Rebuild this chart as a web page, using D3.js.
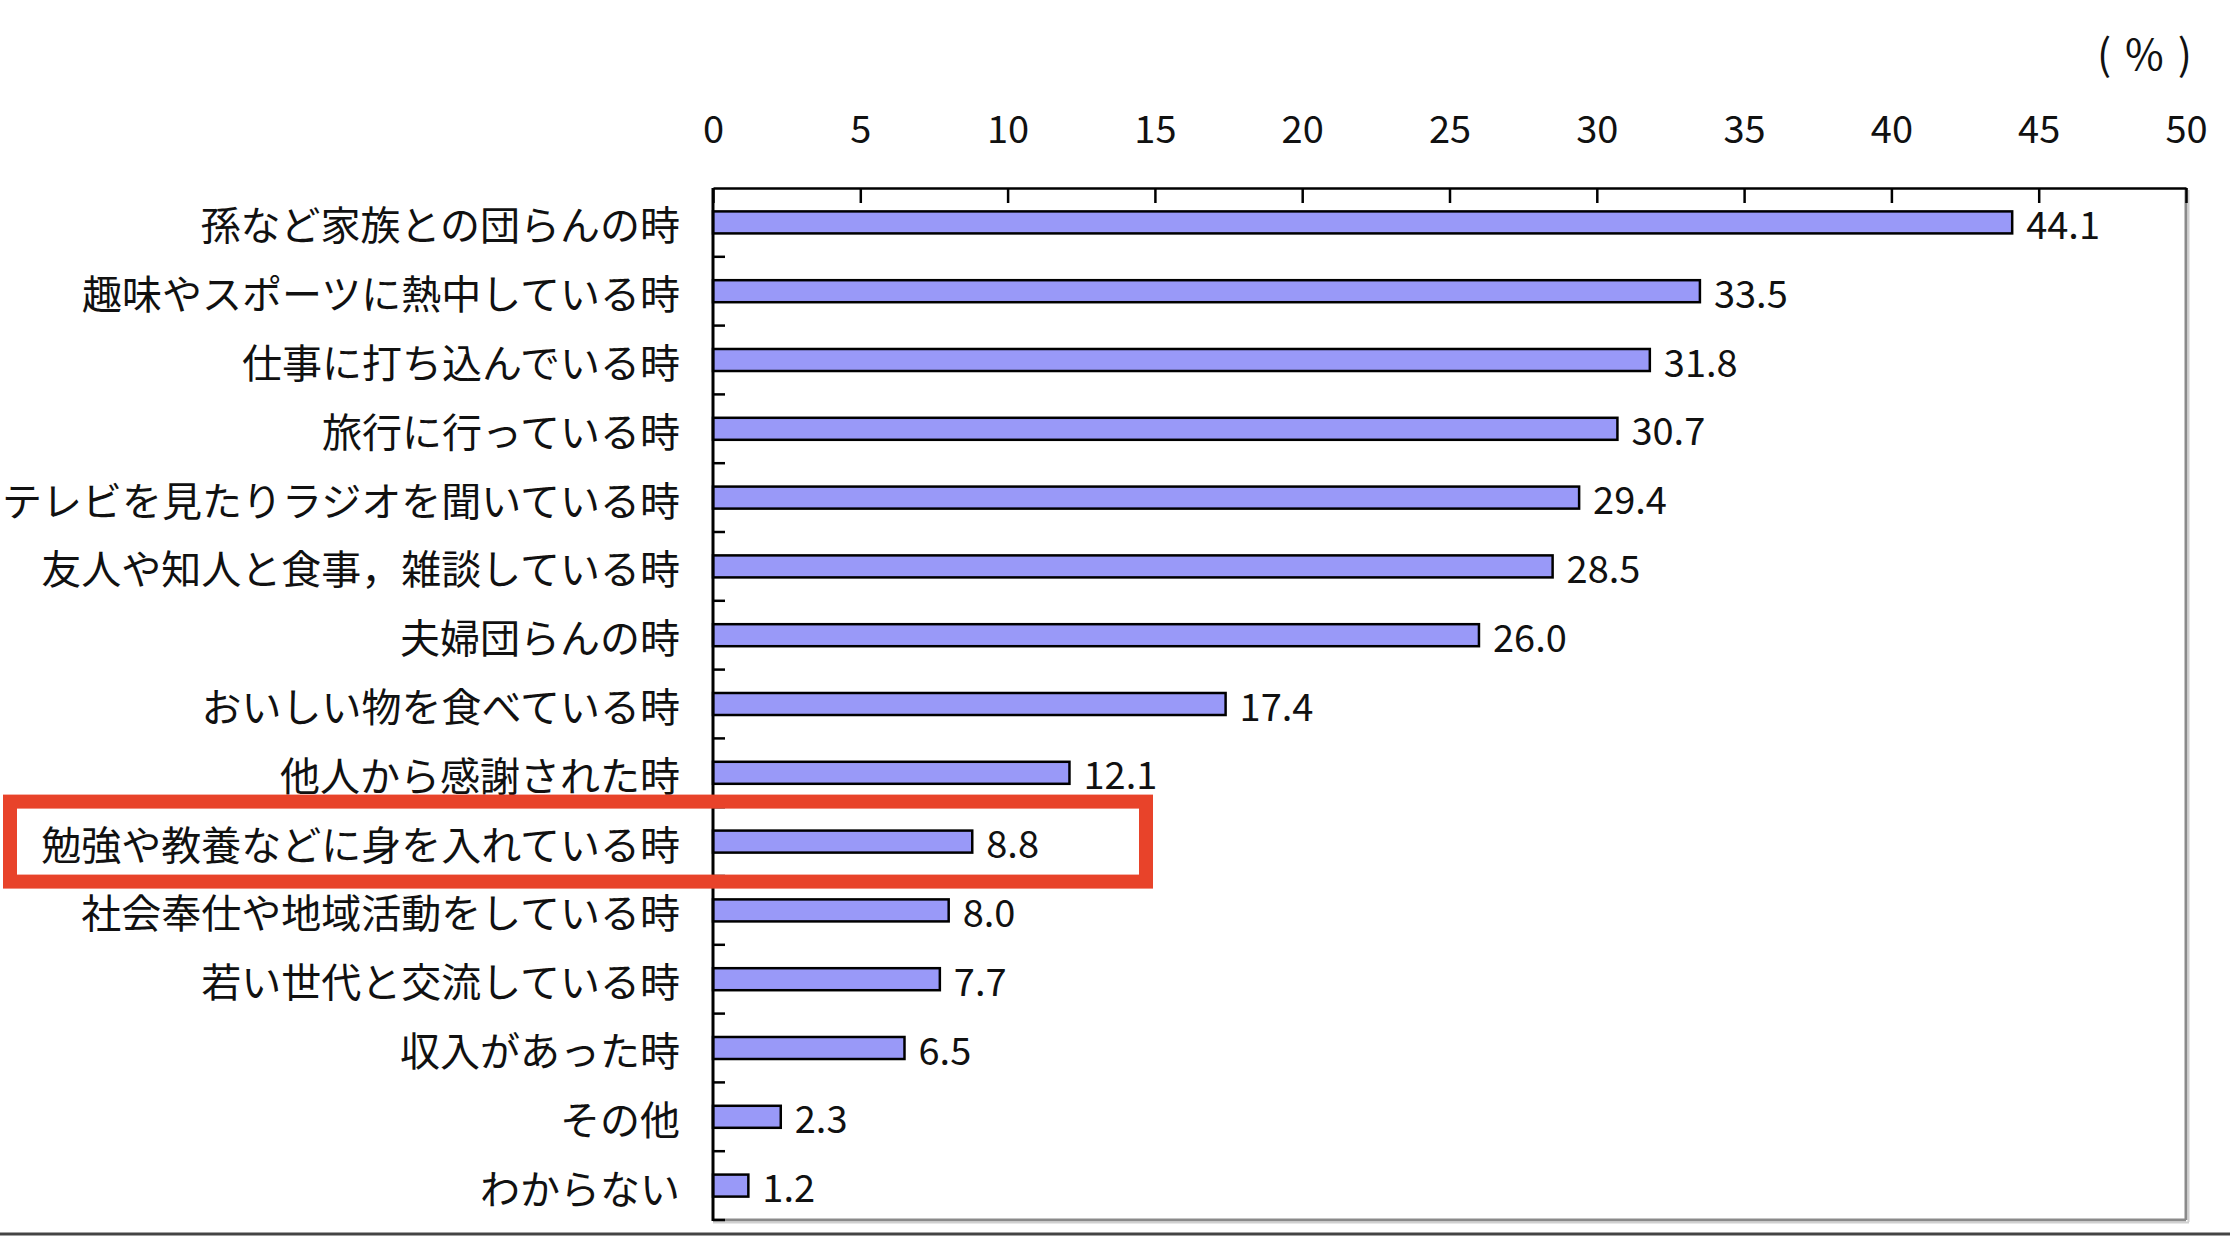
<!DOCTYPE html>
<html>
<head>
<meta charset="utf-8">
<script src="https://cdn.jsdelivr.net/npm/d3@7"></script>
<style>
  html, body { margin: 0; padding: 0; background: #fff; }
  svg { display: block; }
  text { font-family: "Noto Sans CJK JP", "Noto Sans", sans-serif; fill: #111; }
</style>
</head>
<body>
<script>
const categories = [
  "孫など家族との団らんの時",
  "趣味やスポーツに熱中している時",
  "仕事に打ち込んでいる時",
  "旅行に行っている時",
  "テレビを見たりラジオを聞いている時",
  "友人や知人と食事，雑談している時",
  "夫婦団らんの時",
  "おいしい物を食べている時",
  "他人から感謝された時",
  "勉強や教養などに身を入れている時",
  "社会奉仕や地域活動をしている時",
  "若い世代と交流している時",
  "収入があった時",
  "その他",
  "わからない"
];
const values = [44.1, 33.5, 31.8, 30.7, 29.4, 28.5, 26.0, 17.4, 12.1, 8.8, 8.0, 7.7, 6.5, 2.3, 1.2];
const xTicks = [0, 5, 10, 15, 20, 25, 30, 35, 40, 45, 50];
const unitLabel = "(%)";
const highlighted = "勉強や教養などに身を入れている時";

const W = 2230, H = 1236;
const pLeft = 713, pRight = 2186, pTop = 188, pBottom = 1220;

const svg = d3.select("body").append("svg").attr("width", W).attr("height", H);

const x = d3.scaleLinear().domain([0, 50]).range([pLeft, pRight]);
const y = d3.scaleBand().domain(categories).range([pTop, pBottom])
  .paddingInner(0.68).paddingOuter(0.34);

// plot frame: right & bottom gray
svg.append("line").attr("x1", pRight).attr("x2", pRight).attr("y1", pTop).attr("y2", pBottom)
  .attr("stroke", "#8a8a8a").attr("stroke-width", 3);
svg.append("line").attr("x1", pRight + 2.5).attr("x2", pRight + 2.5).attr("y1", pTop + 2).attr("y2", pBottom + 2)
  .attr("stroke", "#d0d0d0").attr("stroke-width", 2);
svg.append("line").attr("x1", pLeft).attr("x2", pRight).attr("y1", pBottom).attr("y2", pBottom)
  .attr("stroke", "#8a8a8a").attr("stroke-width", 3);
svg.append("line").attr("x1", pLeft).attr("x2", pRight + 3).attr("y1", pBottom + 2.5).attr("y2", pBottom + 2.5)
  .attr("stroke", "#d0d0d0").attr("stroke-width", 2);

// bars
svg.append("g").selectAll("rect").data(values).join("rect")
  .attr("x", x(0))
  .attr("y", (d, i) => y(categories[i]))
  .attr("width", d => x(d) - x(0))
  .attr("height", y.bandwidth())
  .attr("fill", "#9999f8")
  .attr("stroke", "#000")
  .attr("stroke-width", 2.5);

// value labels
svg.append("g").selectAll("text").data(values).join("text")
  .attr("x", d => x(d) + 14)
  .attr("y", (d, i) => y(categories[i]) + y.bandwidth() / 2)
  .attr("dominant-baseline", "central")
  .attr("font-size", 38)
  .text(d => d.toFixed(1));

// category axis (left)
const yAxisG = svg.append("g");
yAxisG.append("line").attr("x1", pLeft).attr("x2", pLeft).attr("y1", pTop).attr("y2", pBottom + 1)
  .attr("stroke", "#000").attr("stroke-width", 3);
const step = y.step();
yAxisG.selectAll("line.tk").data(categories).join("line")
  .attr("class", "tk")
  .attr("x1", pLeft).attr("x2", pLeft + 12)
  .attr("y1", (d) => y(d) - y.paddingOuter() * step + step)
  .attr("y2", (d) => y(d) - y.paddingOuter() * step + step)
  .attr("stroke", "#000").attr("stroke-width", 2.5);
yAxisG.selectAll("text").data(categories).join("text")
  .attr("x", 680)
  .attr("y", d => y(d) + y.bandwidth() / 2 + 1)
  .attr("text-anchor", "end")
  .attr("dominant-baseline", "central")
  .attr("font-size", 40)
  .text(d => d);

// top axis
const xAxis = d3.axisTop(x).tickValues(xTicks).tickSizeInner(-15).tickSizeOuter(0).tickPadding(45);
const gx = svg.append("g").attr("transform", `translate(0,${pTop})`).call(xAxis);
gx.select(".domain").attr("stroke", "#000").attr("stroke-width", 2.5);
gx.selectAll(".tick line").attr("stroke", "#000").attr("stroke-width", 2.5);
gx.selectAll(".tick text").attr("font-size", 38)
  .attr("font-family", "\"Noto Sans CJK JP\", sans-serif").attr("fill", "#111");

// unit label
svg.append("text").attr("x", 2192).attr("y", 51)
  .attr("text-anchor", "end").attr("dominant-baseline", "central")
  .attr("font-size", 42).attr("letter-spacing", 14).attr("dx", 14)
  .text(unitLabel);

// highlight box
const hi = categories.indexOf(highlighted);
const hy = y(categories[hi]) + y.bandwidth() / 2;
svg.append("rect")
  .attr("x", 10).attr("y", hy - 40)
  .attr("width", 1136).attr("height", 80)
  .attr("fill", "none").attr("stroke", "#e8432a").attr("stroke-width", 14);

// page bottom line
svg.append("line").attr("x1", 0).attr("x2", W).attr("y1", 1234).attr("y2", 1234)
  .attr("stroke", "#444").attr("stroke-width", 3);
</script>
</body>
</html>
